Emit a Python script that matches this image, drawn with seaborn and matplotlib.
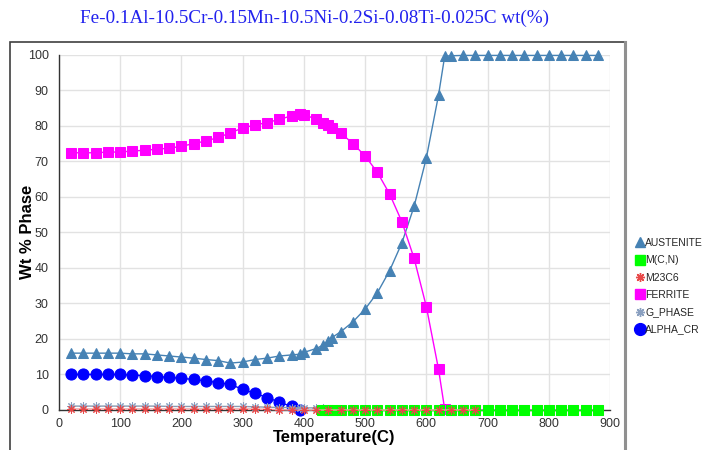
import numpy as np
import pandas as pd
import matplotlib
matplotlib.use("Agg")
import matplotlib.pyplot as plt
from matplotlib.lines import Line2D
from matplotlib.patches import Rectangle
from matplotlib.ticker import MultipleLocator
import seaborn as sns

sns.set_theme(style="white")
plt.rcParams['font.family'] = ['Liberation Sans', 'DejaVu Sans']

title = "Fe-0.1Al-10.5Cr-0.15Mn-10.5Ni-0.2Si-0.08Ti-0.025C wt(%)"

# temperature steps (C)
t_low = [20, 40, 60, 80, 100, 120, 140, 160, 180, 200, 220, 240, 260, 280, 300,
         320, 340, 360, 380, 393, 400, 420, 432, 440, 446, 460, 480, 500, 520,
         540, 560, 580, 600, 620, 630]
t_high = [640, 660, 680, 700, 720, 740, 760, 780, 800, 820, 840, 860, 880]

austenite = [16.0, 16.0, 16.0, 16.0, 16.0, 15.8, 15.8, 15.5, 15.2, 14.9, 14.6, 14.2,
             13.9, 13.2, 13.5, 14.2, 14.6, 15.2, 15.5, 15.7, 16.2, 17.3, 18.3, 19.4,
             20.4, 22.0, 24.8, 28.4, 33.0, 39.2, 47.0, 57.3, 70.9, 88.7, 99.6,
             99.7, 99.8, 99.8, 99.8, 99.8, 99.8, 99.8, 99.8, 99.8, 99.8, 99.8, 99.8, 99.8]

ferrite = [72.4, 72.4, 72.4, 72.6, 72.6, 72.9, 73.1, 73.4, 73.7, 74.2, 75.0, 75.7,
           76.7, 78.0, 79.4, 80.2, 80.9, 81.8, 82.8, 83.3, 83.1, 81.9, 80.8, 80.1,
           79.5, 78.0, 75.0, 71.5, 66.9, 60.8, 53.0, 42.7, 29.1, 11.4, 0.2,
           0, 0, 0, 0, 0, 0, 0, 0, 0, 0, 0, 0, 0]

t_alpha = [20, 40, 60, 80, 100, 120, 140, 160, 180, 200, 220, 240, 260, 280, 300,
           320, 340, 360, 380, 393]
alpha_cr = [10.0, 10.0, 10.0, 10.0, 10.0, 9.8, 9.7, 9.4, 9.2, 8.9, 8.6, 8.2, 7.7,
            7.2, 5.8, 4.7, 3.5, 2.2, 1.0, 0.0]

t_g = [20, 40, 60, 80, 100, 120, 140, 160, 180, 200, 220, 240, 260, 280, 300, 320,
       340, 360, 380, 393, 400, 420, 432, 440, 446]
g_phase = [1.1, 1.1, 1.1, 1.1, 1.1, 1.1, 1.1, 1.1, 1.0, 1.0, 1.0, 1.0, 1.0, 1.0, 1.0,
           0.9, 0.8, 0.7, 0.7, 0.6, 0.6, 0.6, 0.5, 0.4, 0.3]

t_m23 = [20, 40, 60, 80, 100, 120, 140, 160, 180, 200, 220, 240, 260, 280, 300, 320,
         340, 360, 380, 400, 420, 440, 460, 480, 500, 520, 540, 560, 580, 600, 620,
         640, 660, 680]
m23c6 = [0.3] * 16 + [0.2, 0.1] + [0.0] * 16

t_mcn = [430, 440, 446, 460, 480, 500, 520, 540, 560, 580, 600, 620, 640, 660, 680,
         700, 720, 740, 760, 780, 800, 820, 840, 860, 880]
mcn = [0.0] * len(t_mcn)

t_full = t_low + t_high

fig = plt.figure(figsize=(7.2, 4.5), dpi=100)
ax = fig.add_axes([59/720, 1 - 410/450, 551/720, 355.3/450])

styles = [
    ("AUSTENITE", t_full, austenite, dict(color="#4682b4", marker="^", markersize=7, zorder=3)),
    ("M(C,N)", t_mcn, mcn, dict(color="#00ff00", marker="s", markersize=6.5, zorder=5)),
    ("M23C6", t_m23, m23c6, dict(color="#f4a0a0", marker=(8, 2, 0), markersize=6,
                                 markeredgecolor="#e84848", zorder=6)),
    ("FERRITE", t_full, ferrite, dict(color="#ff00ff", marker="s", markersize=6.5, zorder=4)),
    ("G_PHASE", t_g, g_phase, dict(color="#8a9bb0", marker=(8, 2, 0), markersize=6,
                                   markeredgecolor="#8aa0c0", zorder=4)),
    ("ALPHA_CR", t_alpha, alpha_cr, dict(color="#0000ff", marker="o", markersize=8, zorder=3)),
]

for name, t, v, st in styles:
    df = pd.DataFrame({"T": t, "wt": v})
    kw = dict(st)
    kw.setdefault("markeredgecolor", kw["color"])
    sns.lineplot(data=df, x="T", y="wt", ax=ax, sort=False, linewidth=1,
                 clip_on=False, legend=False, **kw)

ax.set_xlim(0, 900)
ax.set_ylim(0, 100)
ax.xaxis.set_major_locator(MultipleLocator(100))
ax.xaxis.set_minor_locator(MultipleLocator(50))
ax.yaxis.set_major_locator(MultipleLocator(10))
ax.yaxis.set_minor_locator(MultipleLocator(5))
ax.grid(True, which="major", color="#e2e2e2", linewidth=1)
ax.set_axisbelow(True)
for s in ["top", "right"]:
    ax.spines[s].set_visible(False)
for s in ["left", "bottom"]:
    ax.spines[s].set_color("#333333")
    ax.spines[s].set_linewidth(1)
ax.tick_params(which="both", direction="out", colors="#333333", labelsize=9,
               labelcolor="#333333")
ax.tick_params(which="major", length=4, width=1)
ax.tick_params(which="minor", length=3, width=1)
ax.tick_params(axis="x", pad=2)
ax.set_xlabel("Temperature(C)", fontsize=12, fontweight="bold", color="black")
ax.set_ylabel("Wt % Phase", fontsize=12, fontweight="bold", color="black")
ax.xaxis.set_label_coords(0.5, -0.055)
ax.yaxis.set_label_coords(-0.044, 0.5)

fig.text(314/720, 1 - 18/450, title, ha="center", va="center", color="#2222ee",
         fontsize=13.8, family=["Liberation Serif", "DejaVu Serif"])

# outer frame
fig.patches.append(Rectangle((10/720, -0.02), 615/720, 1 - 42/450 + 0.02,
                             transform=fig.transFigure, fill=False,
                             edgecolor="#404040", linewidth=1.2))
fig.patches.append(Rectangle((625/720, -0.02), 0.001, 1 - 42/450 + 0.02,
                             transform=fig.transFigure, fill=False,
                             edgecolor="#909090", linewidth=1.5))

handles = []
for name, t, v, st in styles:
    handles.append(Line2D([], [], linestyle="None", marker=st["marker"],
                          color=st["color"],
                          markeredgecolor=st.get("markeredgecolor", st["color"]),
                          markersize=st["markersize"] + 0.5, label=name))
fig.legend(handles=handles, loc="upper left", bbox_to_anchor=(636/720, 1 - 238/450),
           frameon=False, fontsize=7.5, handlelength=0.8, handletextpad=0.1,
           labelspacing=0.7, borderpad=0, borderaxespad=0)

fig.savefig("out.png", dpi=100)
